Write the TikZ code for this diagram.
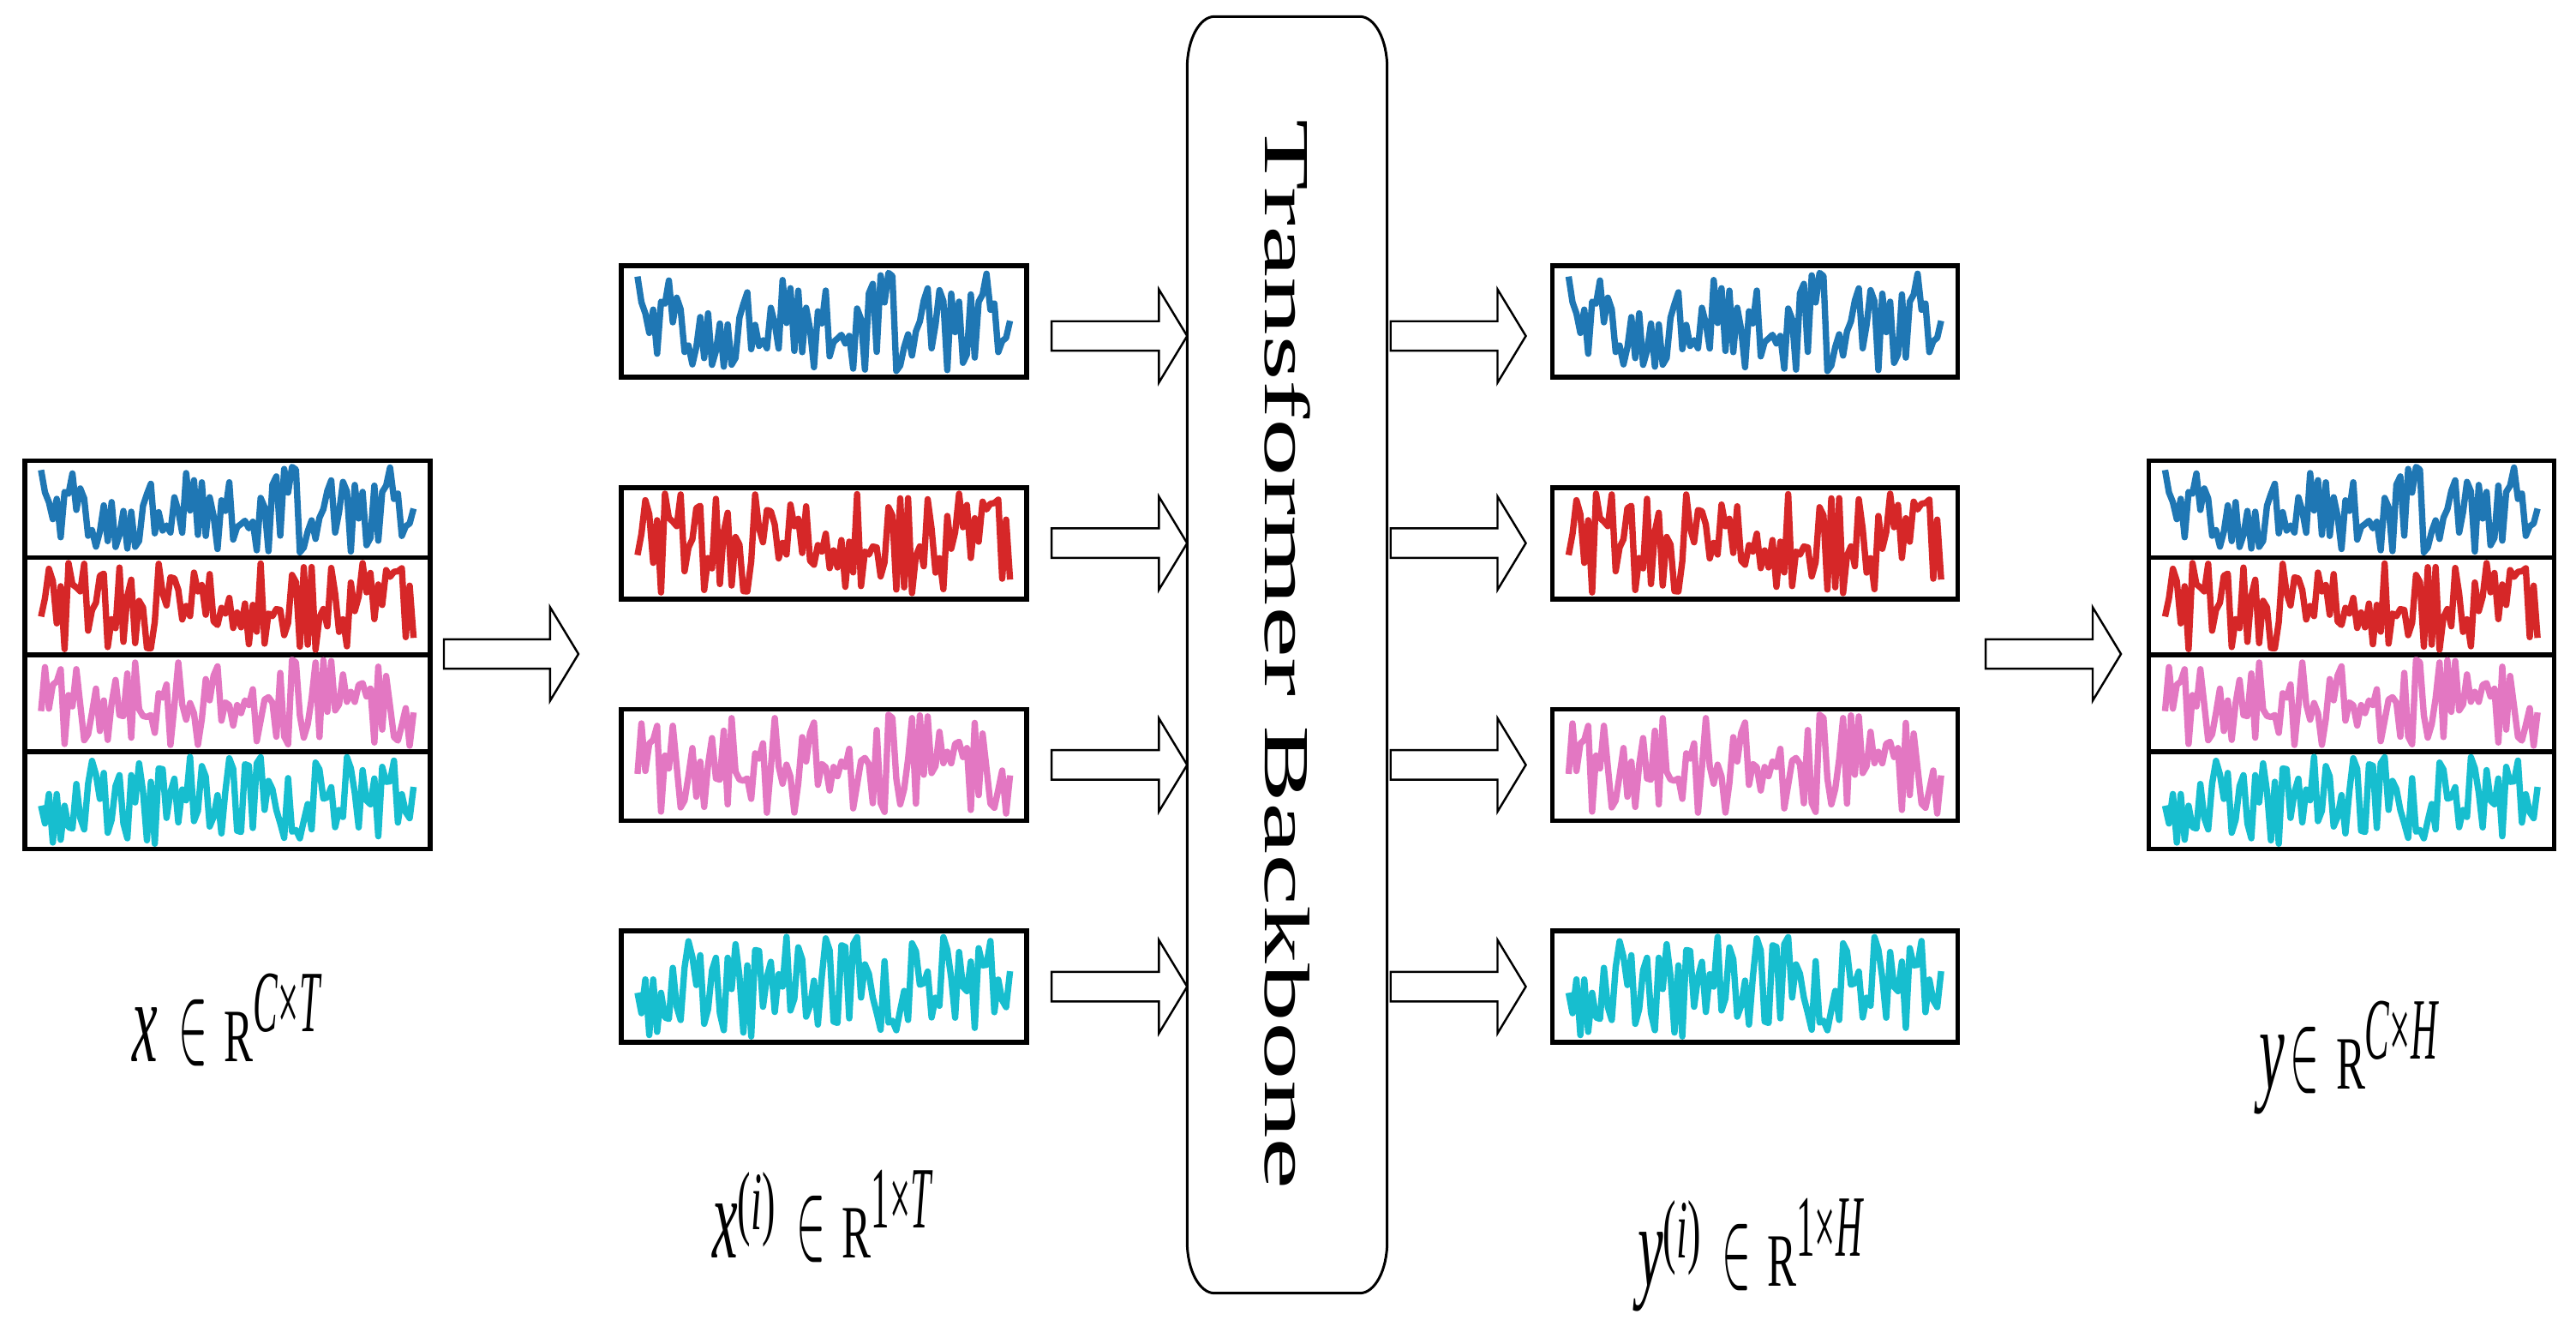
\documentclass[tikz,border=0pt]{standalone}
\usepackage{fontspec}
\setmainfont{Liberation Serif}
\usepackage{graphicx}
\usetikzlibrary{positioning,calc}

\definecolor{sigblue}{HTML}{1F77B4}
\definecolor{sigred}{HTML}{D62728}
\definecolor{sigpink}{HTML}{E377C2}
\definecolor{sigcyan}{HTML}{17BECF}

% one random series inside a named box: #1 box, #2 colour, #3 seed
\newcommand{\series}[3]{%
  \pgfmathsetseed{#3}
  \draw[serie, color=#2] let \p1=(#1.south west), \p2=(#1.north east) in
    plot[domain=0.04:0.96, samples=96, variable=\t]
      ({\x1+\t*(\x2-\x1)}, {\y1+(0.05+0.9*rnd)*(\y2-\y1)});
}

% hollow block arrow from #1 to the x of #2
\newcommand{\fatarrow}[2]{%
  \draw[fatarr] let \p1=(#1), \p2=(#2) in
    (\x1,\y1+4.9pt) -- (\x2-9.4pt,\y1+4.9pt) -- (\x2-9.4pt,\y1+15.5pt)
    -- (\x2,\y1) -- (\x2-9.4pt,\y1-15.5pt) -- (\x2-9.4pt,\y1-4.9pt)
    -- (\x1,\y1-4.9pt) -- cycle;
}

% shape labels: #1 variable, #2 its index, #3 gap, #4 exponent
\newcommand{\idx}{\raisebox{9.3pt}{\scalebox{1.32}[2.75]{(\textit{i})}}}
\newcommand{\dimlabel}[4]{%
  \scalebox{1.9}[3.9]{\itshape #1}%
  #2\hspace*{#3}%
  \scalebox{1.45}[3.8]{$\in$}%
  \hspace*{5.5pt}%
  \scalebox{1.45}[2.5]{R}%
  \raisebox{9.8pt}{\scalebox{1.22}[2.9]{#4}}}

\begin{document}
\begin{tikzpicture}[
    chan/.style={draw, line width=1.6pt, minimum width=4.73cm, minimum height=1.1325cm, inner sep=0pt, outer sep=0pt},
    lone/.style={chan, minimum height=1.3cm},
    serie/.style={line width=2.1pt, line join=round},
    fatarr/.style={draw, line width=0.7pt, fill=white},
    frame/.style={line width=0.85pt},
    lab/.style={anchor=base, inner sep=0pt}]
    \useasboundingbox (0,0) rectangle (30.06,15.67);

    % Input, all channels
    \node[chan] (xc1) at (2.655,9.73) {};
    \node[chan, below=0pt of xc1] (xc2) {};
    \node[chan, below=0pt of xc2] (xc3) {};
    \node[chan, below=0pt of xc3] (xc4) {};

    % One channel at a time
    \node[lone] (xi1) at (9.615,11.92) {};
    \node[lone, below=1.287cm of xi1] (xi2) {};
    \node[lone, below=1.287cm of xi2] (xi3) {};
    \node[lone, below=1.287cm of xi3] (xi4) {};

    \node[lone] (yi1) at (20.48,11.92) {};
    \node[lone, below=1.287cm of yi1] (yi2) {};
    \node[lone, below=1.287cm of yi2] (yi3) {};
    \node[lone, below=1.287cm of yi3] (yi4) {};

    % Output, all channels
    \node[chan] (yc1) at (27.44,9.73) {};
    \node[chan, below=0pt of yc1] (yc2) {};
    \node[chan, below=0pt of yc2] (yc3) {};
    \node[chan, below=0pt of yc3] (yc4) {};

    % Backbone
    \node[minimum width=2.32cm, minimum height=14.88cm, inner sep=0pt] (backbone) at (15.02,8.03) {};
    \draw[frame] (backbone.west) -- ([yshift=-0.6cm]backbone.north west)
        arc[start angle=180, end angle=90, x radius=0.32cm, y radius=0.6cm]
        -- ([xshift=-0.32cm]backbone.north east)
        arc[start angle=90, end angle=0, x radius=0.32cm, y radius=0.6cm]
        -- ([yshift=0.6cm]backbone.south east)
        arc[start angle=0, end angle=-90, x radius=0.32cm, y radius=0.6cm]
        -- ([xshift=0.32cm]backbone.south west)
        arc[start angle=270, end angle=180, x radius=0.32cm, y radius=0.6cm]
        -- cycle;
    \node[rotate=-90, inner sep=0pt] (bbtext) at (backbone.center)
        {\fontsize{21.3pt}{24pt}\selectfont\scalebox{1.81}[1]{Transformer Backbone}};

    % Signals
    \foreach \k/\col/\seed in {1/sigblue/11, 2/sigred/23, 3/sigpink/37, 4/sigcyan/51} {
        \series{xc\k}{\col}{\seed}
        \series{xi\k}{\col}{\seed}
        \series{yi\k}{\col}{\seed}
        \series{yc\k}{\col}{\seed}
    }

    % Arrows
    \coordinate (s0) at (5.18,8.04);
    \coordinate (t0) at (6.75,8.04);
    \fatarrow{s0}{t0}
    \foreach \k/\dy in {1/-0.17, 2/0, 3/0, 4/0} {
        \coordinate (s\k) at ([xshift=0.29cm, yshift=\dy cm]xi\k.east);
        \fatarrow{s\k}{backbone.west |- s\k}
        \coordinate (u\k) at ([xshift=0.04cm]backbone.east |- s\k);
        \coordinate (v\k) at ([xshift=-0.31cm]yi\k.west |- s\k);
        \fatarrow{u\k}{v\k}
    }
    \coordinate (s5) at (23.17,8.04);
    \coordinate (t5) at (24.75,8.04);
    \fatarrow{s5}{t5}

    % Labels
    \node[lab] (lx) at (2.65,3.29) {\dimlabel{x}{}{7pt}{\textit{C}×\textit{T}}};
    \node[lab] (lxi) at (9.60,1.00) {\dimlabel{x}{\idx}{7pt}{1×\textit{T}}};
    \node[lab] (lyi) at (20.43,0.67) {\dimlabel{y}{\idx}{7pt}{1×\textit{H}}};
    \node[lab] (ly) at (27.41,2.97) {\dimlabel{y}{}{2pt}{\textit{C}×\textit{H}}};
\end{tikzpicture}
\end{document}
